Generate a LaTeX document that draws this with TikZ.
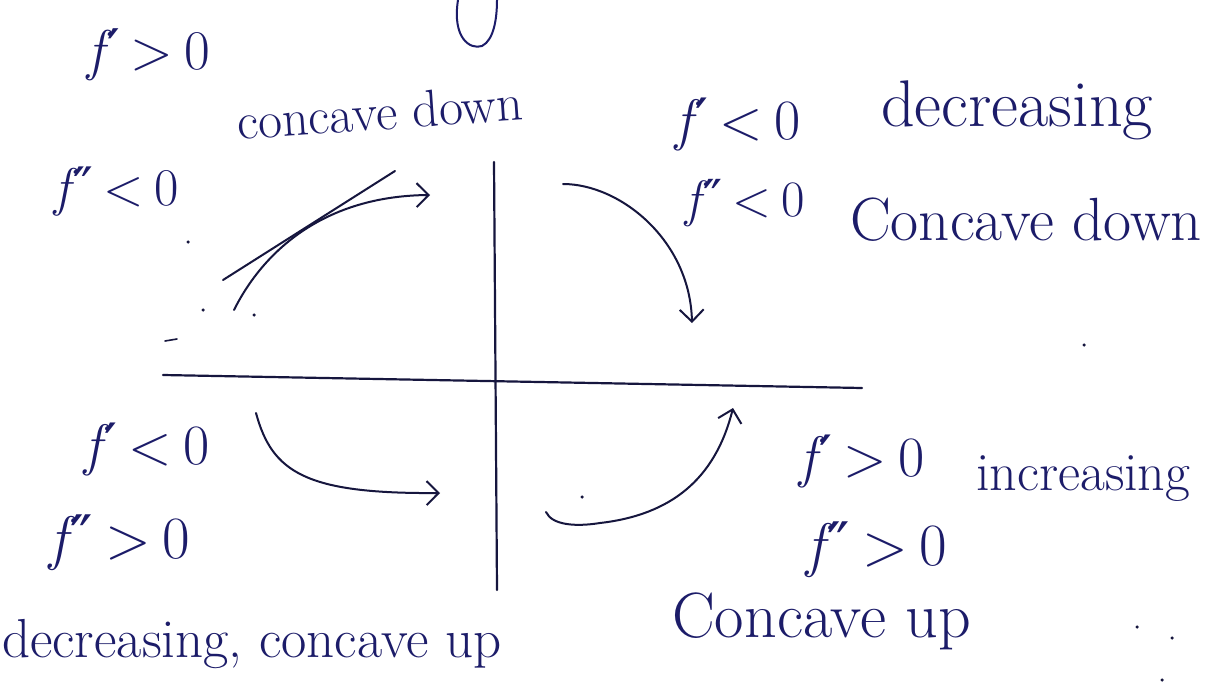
\documentclass[tikz,border=0pt]{standalone}
\usepackage{fontspec}
\setmainfont{Latin Modern Roman}
\newfontfamily\symfont{DejaVu Sans}
\usetikzlibrary{arrows.meta}
\definecolor{ink}{RGB}{28,28,105}
\definecolor{pen}{RGB}{22,22,62}
\newcommand\fone{{\itshape f}\kern0.05em{\symfont\char"2032}}
\newcommand\ftwo{{\itshape f}\kern0.05em{\symfont\char"2033}}
\newcommand\gtz{\kern0.2em>\kern0.2em0}
\newcommand\ltz{\kern0.2em<\kern0.2em0}
\tikzset{
 lbl/.style={text=ink, inner sep=0pt},
 big/.style={font=\fontsize{#1}{#1}\selectfont},
 axis/.style={draw=pen, line width=2.2pt, line cap=round},
 curve/.style={draw=pen, line width=2pt, line cap=round},
 arr/.style={curve, -{Straight Barb[length=12pt,width=24pt,line width=2pt]}},
 spot/.style={fill=pen, circle, inner sep=0pt, minimum size=3.5pt},
}
\begin{document}
\begin{tikzpicture}[x=1pt,y=-1pt]
\useasboundingbox (0,0) rectangle (1212,690);
\fill[white] (0,0) rectangle (1212,690);

% labels
\node[lbl,big=56] (fpA) at (149,55) {\fone\gtz};
\node[lbl,big=53] (fppA) at (117,192) {\ftwo\ltz};
\node[lbl,big=52,rotate=4] (cdA) at (380,112) {concave down};
\node[lbl,big=57] (fpB) at (738,125) {\fone\ltz};
\node[lbl,big=66,anchor=base west] (decB) at (881,127) {decreasing};
\node[lbl,big=51] (fppB) at (745,203) {\ftwo\ltz};
\node[lbl,big=61,anchor=base west] (cdB) at (850,240) {Concave down};
\node[lbl,big=57] (fpC) at (147,450) {\fone\ltz};
\node[lbl,big=60] (fppC) at (120,543) {\ftwo\gtz};
\node[lbl,big=55,anchor=base west] (dcu) at (2,657) {decreasing, concave up};
\node[lbl,big=57] (fpD) at (862,462) {\fone\gtz};
\node[lbl,big=54,anchor=base west] (incD) at (976,490) {increasing};
\node[lbl,big=60] (fppD) at (877,550) {\ftwo\gtz};
\node[lbl,big=64,anchor=base west] (cuD) at (672,637) {Concave up};

% axes
\coordinate (hL) at (163,375);
\coordinate (hR) at (862,388);
\coordinate (vT) at (494,162);
\coordinate (vB) at (497,590);
\draw[axis] (hL) -- (hR);
\draw[axis] (vT) -- (vB);

% top-left: tangent and concave-down increasing curve
\coordinate (tA) at (223,280);
\coordinate (tB) at (395,171);
\draw[curve] (tA) -- (tB);
\coordinate (cA1) at (234,310);
\coordinate (cA2) at (430,195);
\draw[arr] (cA1) .. controls (264,250) and (325,196) .. (cA2);

% top-right
\coordinate (cB1) at (563,184);
\coordinate (cB2) at (692,323);
\draw[arr] (cB1) .. controls (620,184) and (690,240) .. (cB2);

% bottom-left
\coordinate (cC1) at (256,413);
\coordinate (cC2) at (440,493);
\draw[arr] (cC1) .. controls (272,472) and (305,494) .. (cC2);

% bottom-right
\coordinate (cD1) at (546,512);
\coordinate (cD2) at (733,408);
\draw[arr] (cD1) .. controls (552,525) and (575,527) .. (600,523) .. controls (670,515) and (715,480) .. (cD2);

% descender fragment at the top
\coordinate (gA) at (458,0);
\coordinate (gB) at (497,0);
\draw[curve,draw=ink] (gA) .. controls (452,38) and (470,50) .. (482,46) .. controls (494,40) and (497,18) .. (gB);

% stray marks
\coordinate (m1) at (165,341);
\coordinate (m2) at (177,339);
\draw[curve,line width=1.6pt] (m1) -- (m2);
\foreach \p/\q in {d1/{(203,310)},d2/{(254,315)},d3/{(188,242)},d4/{(582,497)},d5/{(1084,345)},d6/{(1137,627)},d7/{(1172,638)},d8/{(1162,680)}}
  \node[spot] (\p) at \q {};
\end{tikzpicture}
\end{document}
